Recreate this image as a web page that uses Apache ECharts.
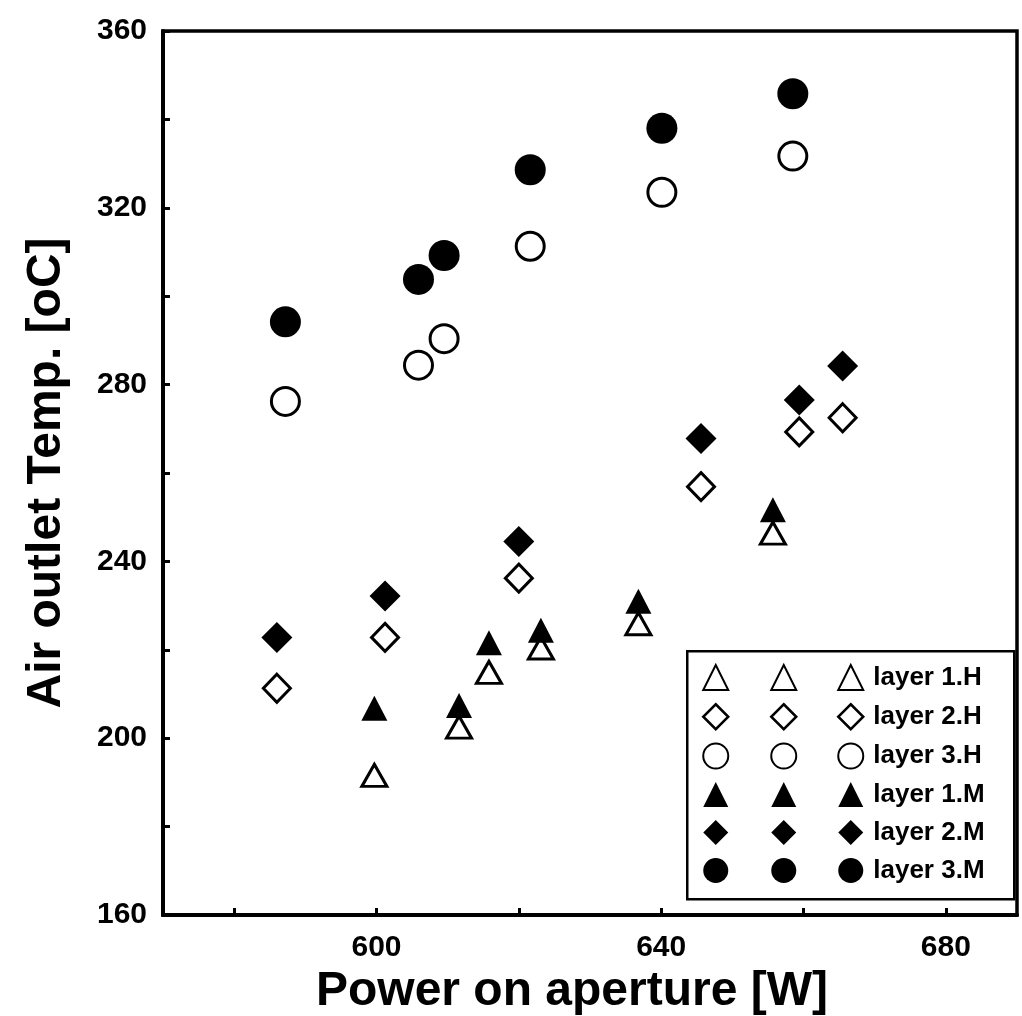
<!DOCTYPE html>
<html>
<head>
<meta charset="utf-8">
<script src="https://cdn.jsdelivr.net/npm/echarts@6/dist/echarts.min.js"></script>
<style>
html,body{margin:0;padding:0;background:#fff;}
#chart{width:1022px;height:1016px;}
</style>
</head>
<body>
<div id="chart"></div>
<script>
// ---- data ----
var seriesNames = ['layer 1.H', 'layer 2.H', 'layer 3.H', 'layer 1.M', 'layer 2.M', 'layer 3.M'];
var layer1X  = [599.7, 611.6, 615.8, 623.1, 636.8, 655.7];
var layer1H  = [191.6, 202.5, 214.9, 220.4, 225.9, 246.4];
var layer1M  = [206.8, 207.4, 221.6, 224.4, 231.0, 251.7];
var layer2X  = [586.0, 601.2, 620.0, 645.6, 659.4, 665.5];
var layer2H  = [211.3, 222.8, 236.2, 256.9, 269.3, 272.5];
var layer2M  = [222.8, 232.2, 244.5, 267.8, 276.5, 284.2];
var layer3X  = [587.2, 605.9, 609.5, 621.6, 640.1, 658.5];
var layer3H  = [276.2, 284.4, 290.4, 311.3, 323.5, 331.7];
var layer3M  = [294.2, 303.8, 309.2, 328.6, 338.0, 345.8];
var xTickValues  = [580, 600, 620, 640, 660, 680];
var xLabelValues = [600, 640, 680];
var yTickValues  = [160, 180, 200, 220, 240, 260, 280, 300, 320, 340, 360];
var yLabelValues = [160, 200, 240, 280, 320, 360];

function pairs(xs, ys) { return xs.map(function (x, i) { return [x, ys[i]]; }); }

var FONT = "'Liberation Sans', Arial, Helvetica, sans-serif";
var openStyle = { color: '#ffffff', borderColor: '#000000', borderWidth: 3, opacity: 1 };
var fillStyle = { color: '#000000', borderWidth: 0, opacity: 1 };
var DIAMOND_ICON = 'path://M12,0L24,12L12,24L0,12Z';

var defs = [
  { name: seriesNames[0], data: pairs(layer1X, layer1H), symbol: 'triangle', size: [25, 22], style: openStyle, z: 2 },
  { name: seriesNames[1], data: pairs(layer2X, layer2H), symbol: 'diamond',  size: [27, 28], style: openStyle, z: 2 },
  { name: seriesNames[2], data: pairs(layer3X, layer3H), symbol: 'circle',   size: 28,       style: openStyle, z: 2 },
  { name: seriesNames[3], data: pairs(layer1X, layer1M), symbol: 'triangle', size: [26, 25], style: fillStyle, z: 3 },
  { name: seriesNames[4], data: pairs(layer2X, layer2M), symbol: 'diamond',  size: [31, 31], style: fillStyle, z: 3 },
  { name: seriesNames[5], data: pairs(layer3X, layer3M), symbol: 'circle',   size: 31,       style: fillStyle, z: 3 }
];

var series = defs.map(function (d) {
  return {
    type: 'scatter', name: d.name, data: d.data,
    symbol: d.symbol, symbolSize: d.size,
    itemStyle: d.style, z: d.z,
    emphasis: { disabled: true }, silent: true
  };
});

function legendData() {
  return defs.map(function (d) {
    var item = { name: d.name };
    if (d.symbol === 'diamond') {
      item.icon = DIAMOND_ICON;
      item.itemStyle = d.style === openStyle
        ? { color: '#ffffff', borderColor: '#000', borderWidth: 2.5 }
        : { color: '#000', borderWidth: 0 };
    }
    return item;
  });
}

function makeLegend(left, showText) {
  return {
    orient: 'vertical', left: left, top: 664,
    padding: 0, itemGap: 12, itemWidth: 25, itemHeight: 25,
    selectedMode: false, z: 10,
    data: legendData(),
    formatter: showText ? function (n) { return n; } : function () { return ' '; },
    textStyle: { fontFamily: FONT, fontWeight: 'bold', fontSize: 26, color: '#000', padding: [0, 0, 0, 5] }
  };
}

var chart = echarts.init(document.getElementById('chart'), null, { renderer: 'canvas' });
chart.setOption({
  backgroundColor: '#ffffff',
  animation: false,
  grid: { left: 163, right: 5, top: 31, bottom: 101, containLabel: false, outerBoundsMode: 'none',
          show: true, borderColor: '#000', borderWidth: 3.5, backgroundColor: 'transparent' },
  xAxis: {
    type: 'value', min: 570, max: 690,
    name: 'Power on aperture [W]', nameLocation: 'middle', nameGap: 51,
    nameTextStyle: { fontFamily: FONT, fontWeight: 'bold', fontSize: 48, color: '#000', padding: [0, 36, 0, 0] },
    axisLine: { show: true, onZero: false, lineStyle: { color: '#000', width: 4 } },
    axisTick: { show: true, inside: true, length: 7, customValues: xTickValues, lineStyle: { color: '#000', width: 3 } },
    axisLabel: { customValues: xLabelValues, margin: 18, fontFamily: FONT, fontWeight: 'bold', fontSize: 30, color: '#000' },
    splitLine: { show: false }
  },
  yAxis: {
    type: 'value', min: 160, max: 360, interval: 20,
    name: 'Air outlet Temp. [oC]', nameLocation: 'middle', nameGap: 92,
    nameTextStyle: { fontFamily: FONT, fontWeight: 'bold', fontSize: 48, color: '#000' },
    axisLine: { show: true, onZero: false, lineStyle: { color: '#000', width: 4 } },
    axisTick: { show: true, inside: true, length: 7, customValues: yTickValues, lineStyle: { color: '#000', width: 3 } },
    axisLabel: { customValues: yLabelValues, margin: 16, fontFamily: FONT, fontWeight: 'bold', fontSize: 30, color: '#000' },
    splitLine: { show: false }
  },
  legend: [makeLegend(702, false), makeLegend(770, false), makeLegend(837, true)],
  graphic: [{
    type: 'rect', left: 686, top: 650, z: 5,
    shape: { width: 327, height: 248 },
    style: { fill: '#ffffff', stroke: '#000', lineWidth: 2.5 }
  }],
  series: series
});
</script>
</body>
</html>
